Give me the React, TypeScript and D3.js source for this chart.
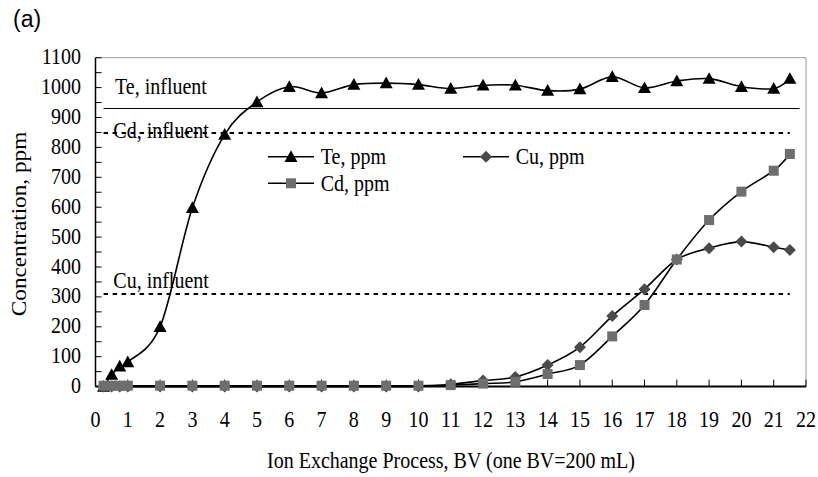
import React from "react";
import * as d3 from "d3";

// Bed volumes sampled during the ion exchange run
const bv = [0.25, 0.5, 0.75, 1, 2, 3, 4, 5, 6, 7, 8, 9, 10, 11, 12, 13, 14, 15, 16, 17, 18, 19, 20, 21, 21.5];

// Effluent concentrations, ppm
const teValues = [0, 40, 68, 82, 200, 598, 843, 952, 1003, 982, 1010, 1015, 1010, 997, 1008, 1008, 990, 995, 1036, 999, 1022, 1030, 1003, 997, 1030];
const cuValues = [0, 0, 0, 0, 0, 0, 0, 0, 0, 0, 0, 0, 0, 8, 20, 32, 72, 132, 236, 326, 425, 463, 485, 466, 457];
const cdValues = [3, 3, 3, 3, 3, 3, 3, 3, 3, 3, 3, 3, 3, 5, 10, 16, 42, 72, 168, 273, 425, 557, 652, 722, 778];

// Influent reference levels, ppm
const influentLevels = [
  { name: "Te, influent", value: 930, dashed: false },
  { name: "Cd, influent", value: 848, dashed: true },
  { name: "Cu, influent", value: 310, dashed: true },
];

const xTicks = d3.range(0, 23, 1);
const yTicks = d3.range(0, 1101, 100);
const yMinorTicks = d3.range(0, 1101, 50);

const W = 818;
const H = 477;
const plot = { left: 95.5, right: 806, top: 57.7, bottom: 386.6 };

const serif = "'Liberation Serif', 'Times New Roman', serif";
const STRETCH = 1.15;

function Label({ x, y, children, anchor = "start", size = 20 }: any) {
  return (
    <text
      transform={`translate(${x},${y}) scale(1,${STRETCH})`}
      fontFamily={serif}
      fontSize={size}
      textAnchor={anchor}
      fill="#000"
    >
      {children}
    </text>
  );
}

function Marker({ kind, x, y }: { kind: string; x: number; y: number }) {
  if (kind === "triangle") {
    const s = 6.5;
    return <path d={`M${x},${y - s}L${x + s},${y + s * 0.8}L${x - s},${y + s * 0.8}Z`} fill="#000" />;
  }
  if (kind === "diamond") {
    const s = 6;
    return <path d={`M${x},${y - s}L${x + s},${y}L${x},${y + s}L${x - s},${y}Z`} fill="#4a4a4a" />;
  }
  const s = 5;
  return <rect x={x - s} y={y - s} width={2 * s} height={2 * s} fill="#6e6e6e" />;
}

export default function App() {
  const x = d3.scaleLinear().domain([0, 22]).range([plot.left, plot.right]);
  const y = d3.scaleLinear().domain([0, 1100]).range([plot.bottom, plot.top]);

  const line = d3
    .line<number>()
    .x((_, i) => x(bv[i]))
    .y((d) => y(d))
    .curve(d3.curveCardinal.tension(0));

  const series = [
    { name: "Te, ppm", values: teValues, marker: "triangle" },
    { name: "Cu, ppm", values: cuValues, marker: "diamond" },
    { name: "Cd, ppm", values: cdValues, marker: "square" },
  ];

  const legend = [
    { name: "Te, ppm", marker: "triangle", lx: 268, ly: 156.7 },
    { name: "Cu, ppm", marker: "diamond", lx: 463, ly: 156.7 },
    { name: "Cd, ppm", marker: "square", lx: 268, ly: 183.3 },
  ];

  return (
    <svg
      width={W}
      height={H}
      viewBox={`0 0 ${W} ${H}`}
      style={{ position: "absolute", left: 0, top: 0, background: "#fff" }}
    >
      <rect width={W} height={H} fill="#fff" />

      <text x={13} y={27} fontFamily="'Liberation Sans', Arial, sans-serif" fontSize={23} fill="#000"
        transform="translate(0,-1.3) scale(1,1.05)">
        (a)
      </text>

      {/* plot frame */}
      <line x1={plot.left} x2={plot.right} y1={plot.top} y2={plot.top} stroke="#9a9a9a" strokeWidth={1} />
      <line x1={plot.right} x2={plot.right} y1={plot.top} y2={plot.bottom} stroke="#9a9a9a" strokeWidth={1} />

      {/* y axis */}
      <line x1={plot.left} x2={plot.left} y1={plot.top} y2={plot.bottom} stroke="#000" strokeWidth={1.5} />
      {yMinorTicks.map((t) => (
        <line key={`ym${t}`} x1={plot.left} x2={plot.left + 6} y1={y(t)} y2={y(t)} stroke="#000" strokeWidth={1} />
      ))}
      {yTicks.map((t) => (
        <Label key={`yl${t}`} x={81} y={y(t) + 6.5} anchor="end">
          {t}
        </Label>
      ))}

      {/* x axis */}
      <line x1={plot.left} x2={plot.right} y1={plot.bottom} y2={plot.bottom} stroke="#000" strokeWidth={2} />
      {xTicks.map((t) => (
        <line key={`xt${t}`} x1={x(t)} x2={x(t)} y1={plot.bottom} y2={plot.bottom - 7} stroke="#000" strokeWidth={1} />
      ))}
      {xTicks.map((t) => (
        <Label key={`xl${t}`} x={x(t)} y={427} anchor="middle">
          {t}
        </Label>
      ))}

      {/* influent reference lines */}
      {influentLevels.map((lv) => (
        <line
          key={lv.name}
          x1={x(0.25)}
          x2={lv.dashed ? x(21.5) : x(21.8)}
          y1={y(lv.value)}
          y2={y(lv.value)}
          stroke="#000"
          strokeWidth={lv.dashed ? 2 : 1}
          strokeDasharray={lv.dashed ? "4.5,4.5" : undefined}
        />
      ))}
      <Label x={115} y={94.3}>Te, influent</Label>
      <Label x={113.3} y={138.3}>Cd, influent</Label>
      <Label x={113.3} y={288.3}>Cu, influent</Label>

      {/* series */}
      {series.map((s) => (
        <g key={s.name}>
          <path d={line(s.values) || ""} fill="none" stroke="#000" strokeWidth={1.6} />
          {s.values.map((v, i) => (
            <Marker key={i} kind={s.marker} x={x(bv[i])} y={y(v)} />
          ))}
        </g>
      ))}

      {/* legend */}
      {legend.map((l) => (
        <g key={l.name}>
          <line x1={l.lx} x2={l.lx + 46} y1={l.ly} y2={l.ly} stroke="#000" strokeWidth={1.6} />
          <Marker kind={l.marker} x={l.lx + 23} y={l.ly} />
          <Label x={l.lx + 52.7} y={l.ly + 7.6}>{l.name}</Label>
        </g>
      ))}

      {/* axis titles */}
      <text
        transform={`translate(26,224) scale(1,${STRETCH}) rotate(-90)`}
        fontFamily={serif}
        fontSize={20.2}
        textAnchor="middle"
        fill="#000"
      >
        Concentration, ppm
      </text>
      <Label x={451} y={467.5} anchor="middle">
        Ion Exchange Process, BV (one BV=200 mL)
      </Label>
    </svg>
  );
}
